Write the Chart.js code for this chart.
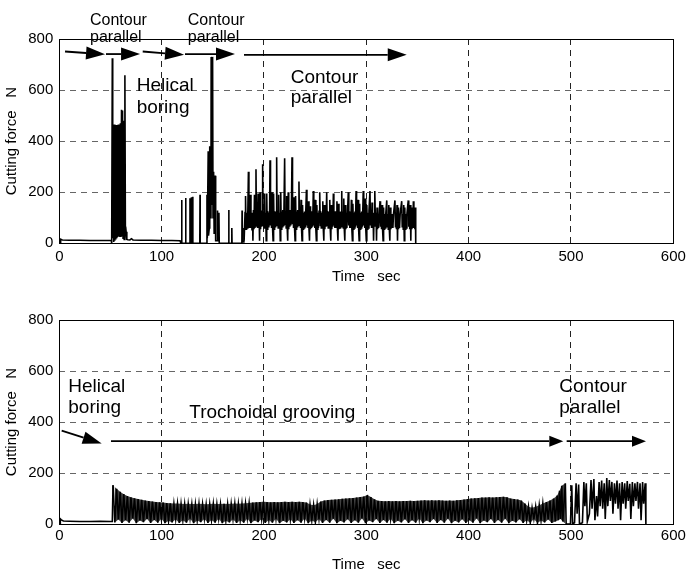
<!DOCTYPE html>
<html>
<head>
<meta charset="utf-8">
<script src="https://cdn.jsdelivr.net/npm/chart.js@4.4.1/dist/chart.umd.min.js"></script>
<style>
  body { margin: 0; background: #fff; }
  canvas { display: block; }
</style>
</head>
<body>
<canvas id="graficoSuperior" width="687" height="290"></canvas>
<canvas id="graficoInferior" width="687" height="287"></canvas>
<script>
// tick values for both plots
const xTicks = [0, 100, 200, 300, 400, 500, 600];
const yTicks = [0, 200, 400, 600, 800];

// upper plot: [time s, force N]
const topSignal = [
  [0,0],[1,0],[1.3,16],[3,13],[10,12],[20,12],[30,11],[40,11],[50.8,11],
  [51.2,0],[51.8,725],[52.2,20],[52.7,462],[53.2,5],[53.7,465],[54.2,10],[54.7,460],[55.2,15],[55.7,463],[56.2,20],
  [56.7,460],[57.2,25],[57.7,465],[58.2,28],[58.7,462],[59.2,25],[59.7,470],[60.2,25],[60.8,523],[61.3,30],
  [61.8,520],[62.3,20],[62.9,480],[63.4,15],[64.1,658],[64.6,30],[65.3,45],[66,15],[67,14],[69,13],
  [70.5,18],[72,13],[80,12],[90,12],[100,11],[110,11],[118,10],[118.8,0],
  [119.4,0],[119.6,170],[119.8,0],[123.3,0],[123.5,177],[123.7,0],[127.5,0],[127.7,176],[127.9,0],
  [128.8,0],[129,180],[129.2,0],[130.2,0],[130.4,182],[130.6,0],[137.3,0],[137.5,190],[137.7,0],
  [144.1,0],[144.3,190],[144.6,20],[145.2,20],[145.5,360],[145.8,30],[146.6,60],[147,380],[147.4,100],[148.2,150],
  [148.4,730],[148.8,150],[149.4,200],[149.8,730],[150.2,100],[150.8,280],[151.3,40],[151.8,100],[152.3,265],[152.8,10],
  [154.2,10],[154.5,128],[154.8,10],[155.7,10],[156,120],[156.3,0],
  [165.4,0],[165.6,130],[165.8,0],[168.4,0],[168.6,60],[168.8,0],
  [178.4,0],[178.6,128],[178.8,5],[180.2,5],[180.4,60],[180.6,10],
  [181,10],[181.5,120],[182,185],[182.5,55],[183,120],[183.6,60],[184.2,115],[184.8,280],[185.3,60],[185.8,125],
  [186.3,60],[186.8,190],[187.3,60],[187.8,120],[188.3,50],[188.8,110],[189.2,10],
  [189.7,130],[190.2,55],[190.7,190],[191.2,60],[191.7,120],[192.2,290],[192.7,65],[193.2,125],[193.7,60],[194.2,195],
  [194.7,60],[195.2,120],[195.7,10],
  [196.2,200],[196.7,55],[197.2,120],[197.7,65],[198.2,125],[198.7,310],[199.2,70],[199.7,125],[200.2,60],[200.7,195],
  [201.2,60],[201.7,120],[202.2,10],
  [202.7,195],[203.2,55],[203.7,125],[204.2,65],[204.8,120],[205.4,70],[205.9,325],[206.4,70],[206.9,125],[207.4,60],
  [207.9,200],[208.4,60],[208.9,10],
  [209.4,195],[209.9,55],[210.4,125],[210.9,65],[211.4,125],[211.9,70],[212.4,337],[212.9,75],[213.4,125],[213.9,60],
  [214.4,190],[214.9,60],[215.4,120],[215.9,10],
  [216.4,200],[216.9,55],[217.4,125],[217.9,65],[218.4,130],[218.9,70],[219.5,125],[220.2,333],[220.7,75],[221.2,125],
  [221.7,60],[222.2,185],[222.7,60],[223.2,10],
  [223.7,200],[224.2,55],[224.7,125],[225.2,65],[225.7,130],[226.2,70],[226.8,125],[227.4,337],[227.9,75],[228.4,125],
  [228.9,60],[229.4,180],[229.9,60],[230.4,10],
  [230.9,185],[231.4,55],[231.9,125],[232.4,65],[232.9,130],[233.5,70],[234.2,242],[234.7,75],[235.2,125],[235.7,60],
  [236.2,170],[236.7,60],[237.2,10],
  [237.7,150],[238.2,55],[238.7,120],[239.2,60],[239.7,125],[240.2,65],[240.8,120],[241.5,210],[242,70],[242.5,125],
  [243,60],[243.5,165],[244,55],[244.5,10],
  [245,145],[245.5,55],[246,120],[246.5,60],[247,125],[247.6,65],[248.2,205],[248.7,70],[249.2,125],[249.7,60],
  [250.2,170],[250.7,55],[251.2,10],
  [251.7,150],[252.2,55],[252.7,120],[253.2,60],[253.8,125],[254.5,200],[255,70],[255.5,125],[256,60],[256.5,120],
  [257,60],[257.5,165],[258,55],[258.5,10],
  [259,150],[259.5,55],[260,120],[260.6,65],[261.3,200],[261.8,70],[262.3,125],[262.8,60],[263.3,125],[263.8,60],
  [264.3,170],[264.8,55],[265.3,10],
  [265.8,150],[266.3,55],[266.8,120],[267.3,65],[267.8,195],[268.3,70],[268.8,125],[269.3,60],[269.8,125],[270.3,60],
  [270.8,120],[271.3,165],[271.8,55],[272.3,10],
  [272.8,155],[273.3,55],[273.8,120],[274.3,60],[274.8,125],[275.4,65],[276,205],[276.5,70],[277,125],[277.5,60],
  [278,175],[278.5,55],[279,10],
  [279.5,150],[280,55],[280.5,120],[281,60],[281.7,125],[282.4,200],[282.9,70],[283.4,125],[283.9,60],[284.4,120],
  [284.9,60],[285.4,170],[285.9,55],[286.4,10],
  [286.9,155],[287.4,55],[287.9,120],[288.4,60],[288.9,125],[289.4,65],[290,205],[290.5,70],[291,125],[291.5,60],
  [292,170],[292.5,55],[293,10],
  [293.5,155],[294,55],[294.5,120],[295,60],[295.5,125],[296.2,65],[297,205],[297.5,70],[298,125],[298.5,60],
  [299,175],[299.5,55],[300,10],
  [300.5,150],[301,55],[301.5,120],[302,60],[302.6,125],[303.6,205],[304.1,70],[304.6,125],[305.1,60],[305.6,160],
  [306.1,60],[306.6,120],[307.1,10],[307.6,120],[308.1,65],[308.5,205],[309,70],[309.5,120],[310,10],
  [310.5,140],[311,55],[311.5,115],[312,60],[312.6,115],[313.4,165],[313.9,65],[314.4,115],[314.9,55],[315.4,150],
  [315.9,55],[316.4,10],
  [316.9,140],[317.4,55],[317.9,115],[318.4,60],[319,115],[320,168],[320.5,65],[321,115],[321.5,55],[322,150],
  [322.5,55],[323,10],
  [323.5,140],[324,55],[324.5,115],[325,60],[325.5,115],[326,60],[326.6,115],[328,168],[328.5,65],[329,115],
  [329.5,55],[330,150],[330.5,10],
  [331,140],[331.5,55],[332,115],[332.5,60],[333.1,115],[334.6,165],[335.1,65],[335.6,115],[336.1,55],[336.6,150],
  [337.1,10],
  [337.6,140],[338.1,55],[338.6,115],[339.1,60],[339.7,115],[341,168],[341.5,65],[342,115],[342.5,55],[343,150],
  [343.5,10],
  [344,140],[344.5,55],[345,115],[345.5,60],[346,165],[346.5,60],[347,115],[347.5,55],[347.9,140],[348.3,0]
];

// lower plot, helical boring entry: [time s, force N]
const bottomHelical = [
  [0,0],[0.8,0],[1,20],[2,16],[4,12],[10,11],[20,10],[30,10],[40,11],[50,10],[51.8,10],[52.5,152]
];

// lower plot, trochoidal grooving (peak, valley, peak, valley ...)
const bottomTrochoidal = [
  [52.5,152],[54.25,6],[56,138],[57.75,18],[59.5,126],[61.25,4],[63,117],[64.75,15],[66.5,110],[68.25,5],
  [70,105],[71.75,22],[73.5,101],[75.25,3],[77,98],[78.75,14],[80.5,95],[82.25,7],[84,92],[85.75,20],
  [87.5,90],[89.25,4],[91,88],[92.75,16],[94.5,86],[96.25,5],[98,85],[99.75,21],[101.5,84],[103.25,3],
  [105,82],[106.75,13],[108.5,81],[110.25,6],[112,80],[113.75,19],[115.5,80],[117.25,4],[119,79],[120.75,15],
  [122.5,78],[124.25,5],[126,79],[127.75,22],[129.5,78],[131.25,3],[133,78],[134.75,14],[136.5,79],[138.25,7],
  [140,78],[141.75,20],[143.5,77],[145.25,4],[147,78],[148.75,16],[150.5,79],[152.25,5],[154,78],[155.75,21],
  [157.5,78],[159.25,3],[161,79],[162.75,13],[164.5,78],[166.25,6],[168,79],[169.75,19],[171.5,80],[173.25,4],
  [175,79],[176.75,15],[178.5,80],[180.25,5],[182,81],[183.75,22],[185.5,82],[187.25,3],[189,84],[190.75,14],
  [192.5,85],[194.25,7],[196,86],[197.75,20],[199.5,87],[201.25,4],[203,86],[204.75,16],[206.5,85],[208.25,5],
  [210,86],[211.75,21],[213.5,85],[215.25,3],[217,86],[218.75,13],[220.5,87],[222.25,6],[224,86],[225.75,19],
  [227.5,87],[229.25,4],[231,86],[232.75,15],[234.5,87],[236.25,5],[238,86],[239.75,22],[241.5,84],[243.25,3],
  [245,76],[246.75,14],[248.5,74],[250.25,7],[252,78],[253.75,20],[255.5,88],[257.25,4],[259,92],[260.75,16],
  [262.5,94],[264.25,5],[266,95],[267.75,21],[269.5,96],[271.25,3],[273,97],[274.75,13],[276.5,99],[278.25,6],
  [280,100],[281.75,19],[283.5,101],[285.25,4],[287,102],[288.75,15],[290.5,104],[292.25,5],[294,106],[295.75,22],
  [297.5,108],[299.25,3],[301,114],[302.75,14],[304.5,106],[306.25,7],[308,97],[309.75,20],[311.5,91],[313.25,4],
  [315,90],[316.75,16],[318.5,89],[320.25,5],[322,90],[323.75,21],[325.5,89],[327.25,3],[329,90],[330.75,13],
  [332.5,89],[334.25,6],[336,90],[337.75,19],[339.5,90],[341.25,4],[343,91],[344.75,15],[346.5,90],[348.25,5],
  [350,91],[351.75,22],[353.5,92],[355.25,3],[357,93],[358.75,14],[360.5,92],[362.25,7],[364,93],[365.75,20],
  [367.5,92],[369.25,4],[371,93],[372.75,16],[374.5,92],[376.25,5],[378,91],[379.75,21],[381.5,92],[383.25,3],
  [385,91],[386.75,13],[388.5,93],[390.25,6],[392,94],[393.75,19],[395.5,96],[397.25,4],[399,98],[400.75,15],
  [402.5,100],[404.25,5],[406,101],[407.75,22],[409.5,102],[411.25,3],[413,104],[414.75,14],[416.5,104],[418.25,7],
  [420,105],[421.75,20],[423.5,104],[425.25,4],[427,105],[428.75,16],[430.5,106],[432.25,5],[434,107],[435.75,21],
  [437.5,105],[439.25,3],[441,100],[442.75,13],[444.5,98],[446.25,6],[448,96],[449.75,19],[451.5,92],[453.25,4],
  [455,80],[456.75,15],[458.5,68],[460.25,5],[462,64],[463.75,20],[465.5,68],[467.25,4],[469,74],[470.75,14],
  [472.5,80],[474.25,6],[476,86],[477.75,18],[479.5,92],[481.25,4],[483,100],[484.75,10],
  [486.5,112],[487.6,15],[488.8,130],[489.8,20],[491,150],[492,10],[494.5,160],[495.3,0]
];

// lower plot, contour parallel finish
const bottomContour = [
  [495.3,0],[499.5,0],[500.8,152],
  [501.6,0],[503.5,5],[505,160],[506,40],[507.5,155],[508.3,0],[511.2,5],[512.6,165],[513.6,70],[515,160],
  [516,10],[518,40],[519.6,172],[520.6,60],[522.4,176],[523.4,15],[525,110],[526,30],[527.5,165],[528.5,70],
  [530,170],[531,60],[532.5,160],[533.5,20],[535,180],[536,70],[537.5,172],[538.5,90],[540,165],[541,40],
  [542.5,160],[543.5,80],[545,170],[546,60],[547.5,160],[548.5,15],[550,165],[551,80],[552.5,160],[553.5,60],
  [555,168],[556,90],[557.5,158],[558.5,20],[560,165],[561,70],[562.5,160],[563.5,90],[565,165],[566,60],
  [567.5,160],[568.5,15],[570,165],[571,80],[572.5,160],[573.2,0]
];

// dense trochoidal band: shade between its peaks and its valleys
const picos = bottomTrochoidal.filter((p, i) => i % 2 === 0);
const valles = bottomTrochoidal.filter((p, i) => i % 2 === 1);

Chart.defaults.font.family = '"Liberation Sans", Arial, sans-serif';
Chart.defaults.color = '#000';

// box, arrows and phase labels, placed in data units
const rotulos = {
  id: 'rotulos',
  afterDraw(chart, args, opts) {
    const {ctx, chartArea: a, scales: {x, y}} = chart;
    ctx.save();
    ctx.strokeStyle = '#000';
    ctx.fillStyle = '#000';
    ctx.lineWidth = 1;
    ctx.strokeRect(Math.round(a.left) + 0.5, Math.round(a.top) + 0.5, Math.round(a.width), Math.round(a.height));
    ctx.lineWidth = 1.8;
    opts.flechas.forEach(f => {
      const x0 = x.getPixelForValue(f.desde[0]), y0 = y.getPixelForValue(f.desde[1]);
      const x1 = x.getPixelForValue(f.hasta[0]), y1 = y.getPixelForValue(f.hasta[1]);
      const ang = Math.atan2(y1 - y0, x1 - x0);
      const bx = x1 - f.punta * Math.cos(ang), by = y1 - f.punta * Math.sin(ang);
      ctx.beginPath(); ctx.moveTo(x0, y0); ctx.lineTo(bx, by); ctx.stroke();
      ctx.beginPath();
      ctx.moveTo(x1, y1);
      ctx.lineTo(bx + f.ancho * Math.sin(ang), by - f.ancho * Math.cos(ang));
      ctx.lineTo(bx - f.ancho * Math.sin(ang), by + f.ancho * Math.cos(ang));
      ctx.closePath(); ctx.fill();
    });
    ctx.textBaseline = 'alphabetic';
    ctx.textAlign = 'left';
    opts.textos.forEach(t => {
      ctx.font = t.tam + 'px "Liberation Sans", Arial, sans-serif';
      ctx.fillText(t.texto, x.getPixelForValue(t.t), y.getPixelForValue(t.f));
    });
    ctx.restore();
  }
};

function ejes(altoX, padTicksX, padTituloX) {
  return {
    x: {
      type: 'linear',
      min: xTicks[0], max: xTicks[xTicks.length - 1],
      afterBuildTicks: s => { s.ticks = xTicks.map(v => ({value: v})); },
      afterFit: s => { s.height = altoX; s.paddingLeft = 0; s.paddingRight = 0; },
      ticks: { font: {size: 15}, padding: padTicksX, maxRotation: 0 },
      grid: { color: '#222', drawTicks: false },
      border: { display: false, dash: [6, 5] },
      title: { display: true, text: 'Time   sec', font: {size: 15}, padding: {top: 0, bottom: padTituloX} }
    },
    y: {
      type: 'linear',
      min: yTicks[0], max: yTicks[yTicks.length - 1],
      afterBuildTicks: s => { s.ticks = yTicks.map(v => ({value: v})); },
      afterFit: s => { s.width = 59.3; s.paddingTop = 0; s.paddingBottom = 0; },
      ticks: { font: {size: 15}, padding: 6 },
      grid: { color: '#666', drawTicks: false },
      border: { display: false, dash: [6, 5] },
      title: { display: true, text: 'Cutting force   N', font: {size: 15}, padding: {top: 2.5, bottom: 0} }
    }
  };
}

function serie(puntos, orden) {
  return {
    data: puntos.map(p => ({x: p[0], y: p[1]})),
    borderColor: '#000',
    borderWidth: 1.6,
    pointRadius: 0,
    tension: 0,
    fill: false,
    order: orden
  };
}

new Chart(document.getElementById('graficoSuperior').getContext('2d'), {
  type: 'line',
  data: { datasets: [serie(topSignal, 0)] },
  options: {
    responsive: false,
    animation: false,
    layout: { padding: {top: 39, right: 13.7, left: 0, bottom: 0} },
    scales: ejes(46.7, 4.2, 4.2),
    plugins: {
      legend: { display: false },
      tooltip: { enabled: false },
      rotulos: {
        flechas: [
          {desde: [5.6, 751], hasta: [44.7, 740], punta: 19, ancho: 6.5},
          {desde: [45.6, 741], hasta: [78.9, 741], punta: 19, ancho: 6.5},
          {desde: [81.5, 751], hasta: [121.9, 738], punta: 19, ancho: 6.5},
          {desde: [122.8, 741], hasta: [171.7, 741], punta: 19, ancho: 6.5},
          {desde: [180.5, 738], hasta: [339.5, 738], punta: 19, ancho: 6.5}
        ],
        textos: [
          {texto: 'Contour', t: 30, f: 856, tam: 16},
          {texto: 'parallel', t: 30, f: 789, tam: 16},
          {texto: 'Contour', t: 125.5, f: 856, tam: 16},
          {texto: 'parallel', t: 125.5, f: 789, tam: 16},
          {texto: 'Helical', t: 75.6, f: 597, tam: 19},
          {texto: 'boring', t: 75.6, f: 511, tam: 19},
          {texto: 'Contour', t: 226.1, f: 628, tam: 19},
          {texto: 'parallel', t: 226.1, f: 550, tam: 19}
        ]
      }
    }
  },
  plugins: [rotulos]
});

const banda = serie(picos, 3);
banda.borderWidth = 0;
banda.fill = {target: 1};
banda.backgroundColor = 'rgba(0,0,0,0.75)';
const fondo = serie(valles, 4);
fondo.borderWidth = 0;

new Chart(document.getElementById('graficoInferior').getContext('2d'), {
  type: 'line',
  data: { datasets: [banda, fondo, serie(bottomHelical, 0), serie(bottomTrochoidal, 0), serie(bottomContour, 0)] },
  options: {
    responsive: false,
    animation: false,
    layout: { padding: {top: 30, right: 13.7, left: 0, bottom: 0} },
    scales: ejes(53, 2.5, 3),
    plugins: {
      legend: { display: false },
      tooltip: { enabled: false },
      rotulos: {
        flechas: [
          {desde: [2.3, 366], hasta: [41.4, 316], punta: 19, ancho: 6.3},
          {desde: [50.5, 325], hasta: [492.5, 325], punta: 14, ancho: 5.5},
          {desde: [495.8, 325], hasta: [573.3, 325], punta: 14, ancho: 5.5}
        ],
        textos: [
          {texto: 'Helical', t: 8.8, f: 518, tam: 19},
          {texto: 'boring', t: 8.8, f: 435, tam: 19},
          {texto: 'Trochoidal grooving', t: 127, f: 416, tam: 19},
          {texto: 'Contour', t: 488.6, f: 518, tam: 19},
          {texto: 'parallel', t: 488.6, f: 435, tam: 19}
        ]
      }
    }
  },
  plugins: [rotulos]
});
</script>
</body>
</html>
